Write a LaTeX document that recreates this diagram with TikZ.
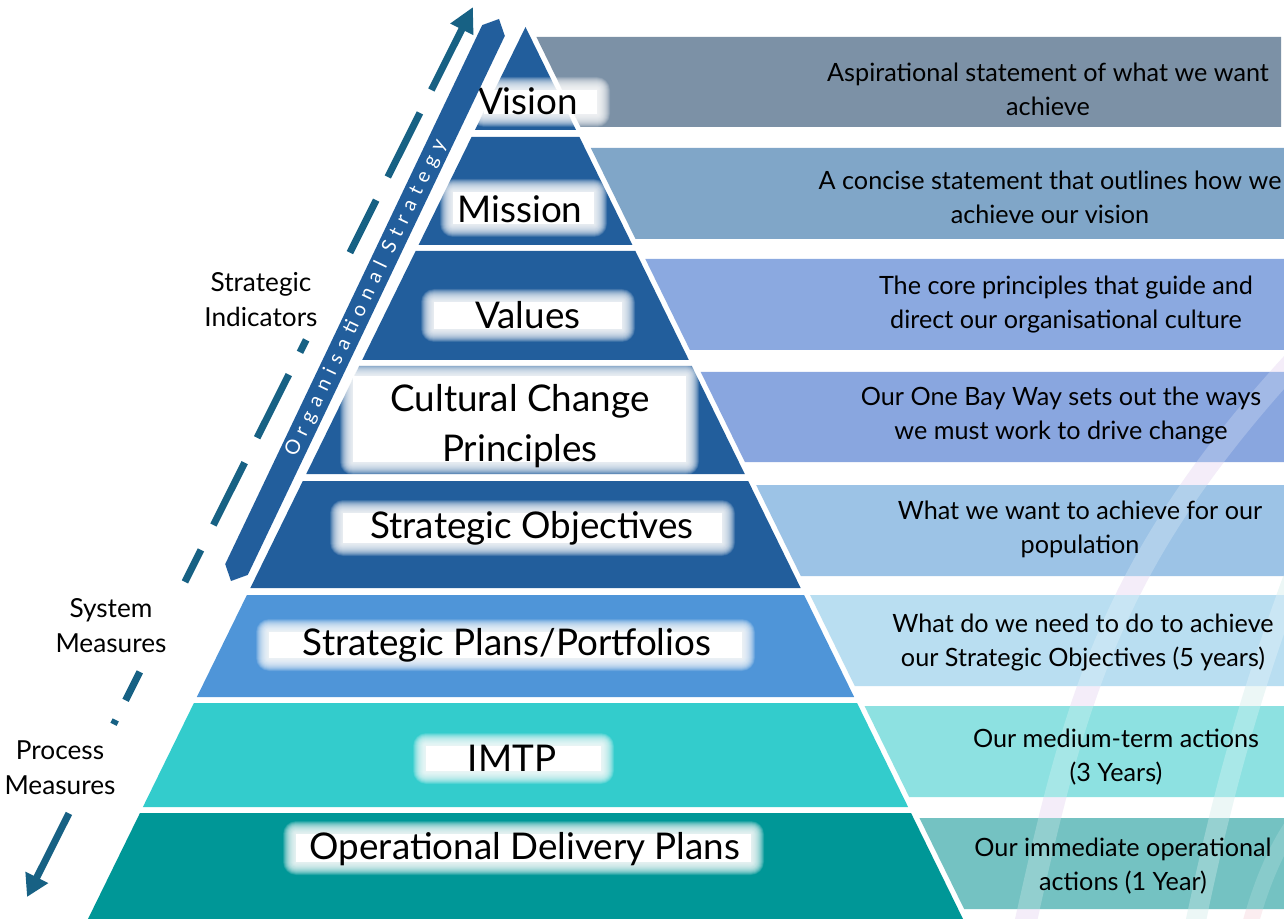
\documentclass[tikz,border=0pt]{standalone}
\usepackage{fontspec}
\setmainfont{Lato}
\usetikzlibrary{arrows.meta,calc}

% tier colours
\definecolor{tierdark}{HTML}{225E9C}
\definecolor{tierplan}{HTML}{4F95D8}
\definecolor{tierimtp}{HTML}{33CCCC}
\definecolor{tierop}{HTML}{009797}
% description bar colours
\definecolor{barA}{HTML}{7C91A6}
\definecolor{barB}{HTML}{80A6C8}
\definecolor{barC}{HTML}{8BA9E0}
\definecolor{barD}{HTML}{89A6DF}
\definecolor{barE}{HTML}{9CC3E6}
\definecolor{barF}{HTML}{B9DEF1}
\definecolor{barG}{HTML}{8DE1E1}
\definecolor{barH}{HTML}{74C2C2}
\definecolor{arrowteal}{HTML}{176184}
\definecolor{arclilac}{HTML}{F1E9F8}
\definecolor{arcmint}{HTML}{E6F5F4}
\definecolor{arcpink}{HTML}{FBEAEE}

% one horizontal slice of the pyramid: top y, bottom y, colour
\newcommand\pyrslice[3]{%
  \fill[#3] ({525.5-0.4905*(#1-27)},#1) -- ({525.5+0.4905*(#1-27)},#1)
    -- ({525.5+0.4905*(#2-27)},#2) -- ({525.5-0.4905*(#2-27)},#2) -- cycle;}
% description bar beside the pyramid: top y, bottom y, colour, right x
\newcommand\descbar[4]{%
  \fill[#3] ({531.5+0.4905*(#1-27)},#1) -- (#4,#1) -- (#4,#2)
    -- ({531.5+0.4905*(#2-27)},#2) -- cycle;}
% soft white glow behind a tier title
\newcommand\glowrect[4]{%
  \foreach \d [evaluate=\d as \r using 0.5*\d] in {0.5,1,...,13}{%
    \fill[white,opacity=0.09,rounded corners=\r pt] ({#1-\d},{#2-\d}) rectangle ({#3+\d},{#4+\d});}
  \fill[white] (#1,#2) rectangle (#3,#4);}
% the three background sweeps
\newcommand\sweepA{(1025,925) .. controls (1075,700) and (1110,560) .. (1300,355)}
\newcommand\sweepB{(1195,925) .. controls (1225,780) and (1255,680) .. (1300,560)}
\newcommand\sweepC{(1250,925) .. controls (1262,880) and (1280,840) .. (1300,815)}

\begin{document}
\begin{tikzpicture}[x=0.5pt,y=-0.5pt,
  desc/.style={font=\fontsize{12.6}{17}\selectfont, align=center, inner sep=0pt},
  side/.style={font=\fontsize{13.1}{17.5}\selectfont, align=center, inner sep=0pt},
  tiertext/.style={font=\fontsize{18.4}{25}\selectfont, align=center, inner sep=0pt},
  dashseg/.style={line width=3.5pt, draw=arrowteal},
]
\useasboundingbox (0,0) rectangle (1284,919);
\fill[white] (0,0) rectangle (1284,919);

% background sweeps, seen in the gaps between bars
\draw[arclilac, line width=11pt] \sweepA;
\draw[arcmint, line width=10pt] \sweepB;
\draw[arcpink, line width=8pt] \sweepC;

% description bars
\descbar{37}{127}{barA}{1281}
\descbar{148}{239}{barB}{1284}
\descbar{259}{350}{barC}{1284}
\descbar{372}{462}{barD}{1284}
\descbar{485}{576}{barE}{1284}
\descbar{595}{686}{barF}{1284}
\descbar{706}{797}{barG}{1284}
\descbar{818}{909}{barH}{1284}

% the sweeps lighten the bars they cross
\draw[white, opacity=0.22, line width=11pt] \sweepA;
\draw[white, opacity=0.25, line width=10pt] \sweepB;
\draw[white, opacity=0.15, line width=8pt] \sweepC;

% pyramid
\pyrslice{27}{130}{tierdark}
\pyrslice{137}{245}{tierdark}
\pyrslice{251}{360}{tierdark}
\pyrslice{366}{474}{tierdark}
\pyrslice{481}{588}{tierdark}
\pyrslice{595}{697}{tierplan}
\pyrslice{703}{807}{tierimtp}
\pyrslice{813}{919}{tierop}

% glows behind the tier titles
\glowrect{484}{90}{597}{114}
\glowrect{453}{192}{594}{224}
\glowrect{434}{302}{622}{329}
\glowrect{353}{376}{686}{462}
\glowrect{343}{513}{722}{543}
\glowrect{269}{632}{742}{658}
\glowrect{426}{746}{601}{771}
\glowrect{296}{834}{751}{862}

% tier titles
\node[tiertext] (vision) at (528,101) {Vision};
\node[tiertext] (mission) at (520,209) {Mission};
\node[tiertext] (values) at (528,315) {Values};
\node[tiertext] (culture) at (520,426) {Cultural Change\\Principles};
\node[tiertext] (objectives) at (532,528) {Strategic Objectives};
\node[tiertext] (plans) at (507,645) {Strategic Plans/Portfolios};
\node[tiertext] (imtp) at (512,758) {IMTP};
\node[tiertext] (delivery) at (525,849) {Operational Delivery Plans};

% descriptions
\node[desc] (dvision) at (1048,89) {Aspirational statement of what we want\\achieve};
\node[desc] (dmission) at (1050,197.5) {A concise statement that outlines how we\\achieve our vision};
\node[desc] (dvalues) at (1066,305) {The core principles that guide and\\direct our organisational culture};
\node[desc] (dculture) at (1061,416) {Our One Bay Way sets out the ways\\we must work to drive change};
\node[desc] (dobjectives) at (1080,529.5) {What we want to achieve for our\\population};
\node[desc] (dplans) at (1083,643) {What do we need to do to achieve\\our Strategic Objectives (5 years)};
\node[desc] (dimtp) at (1116,757) {Our medium-term actions\\(3 Years)};
\node[desc] (ddelivery) at (1123,866.5) {Our immediate operational\\actions (1 Year)};

% organisational strategy band (pointed at both ends)
\fill[tierdark] (231,581) -- (225.2,564.1) -- (482.2,25.1) -- (499,19)
  -- (504.8,35.9) -- (247.8,574.9) -- cycle;
\node[rotate=64.5, text=white, inner sep=0pt,
  font=\fontsize{10}{12}\selectfont\addfontfeature{LetterSpace=36}]
  (strategy) at (366,298) {Organisational Strategy};

% dashed measure arrow
\coordinate (dtop) at (473,7);
\coordinate (dbot) at (27,897);
\draw[dashseg, -{Triangle[length=12.5pt,width=12pt]}] ($(dtop)!0.0933!(dbot)$) -- (dtop);
\foreach \a/\b in {0.119/0.191, 0.217/0.276, 0.374/0.388, 0.413/0.484,
                   0.512/0.582, 0.610/0.646, 0.747/0.779, 0.801/0.806}
  \draw[dashseg] ($(dtop)!\a!(dbot)$) -- ($(dtop)!\b!(dbot)$);
\draw[dashseg, -{Triangle[length=11pt,width=12pt]}] ($(dtop)!0.906!(dbot)$) -- (dbot);

% measure labels
\node[side] (strategic) at (261,299.5) {Strategic\\Indicators};
\node[side] (system) at (111,625.5) {System\\Measures};
\node[side] (process) at (60,768) {Process\\Measures};
\end{tikzpicture}
\end{document}
